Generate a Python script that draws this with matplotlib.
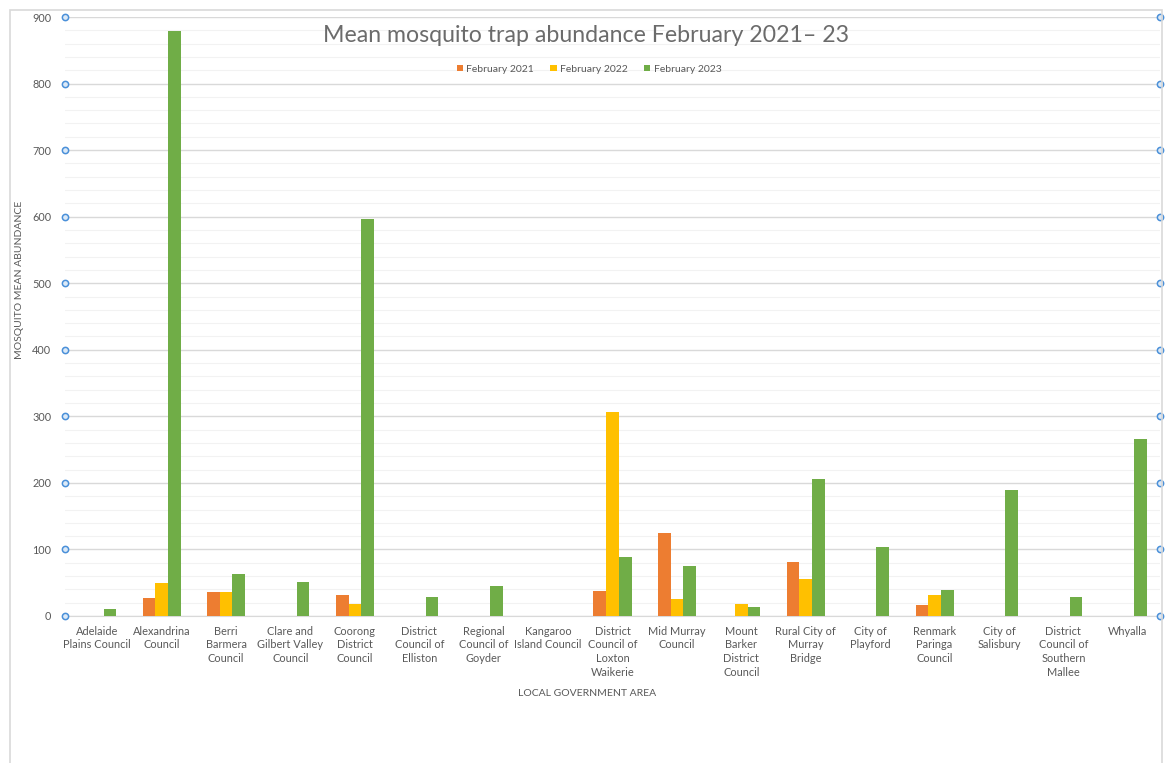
import matplotlib
matplotlib.use("Agg")
import matplotlib.pyplot as plt
import numpy as np
from matplotlib.patches import Rectangle

plt.rcParams['font.family'] = ['Lato', 'DejaVu Sans']

# дані
councils = [
    "Adelaide\nPlains Council", "Alexandrina\nCouncil", "Berri\nBarmera\nCouncil",
    "Clare and\nGilbert Valley\nCouncil", "Coorong\nDistrict\nCouncil",
    "District\nCouncil of\nElliston", "Regional\nCouncil of\nGoyder",
    "Kangaroo\nIsland Council", "District\nCouncil of\nLoxton\nWaikerie",
    "Mid Murray\nCouncil", "Mount\nBarker\nDistrict\nCouncil",
    "Rural City of\nMurray\nBridge", "City of\nPlayford", "Renmark\nParinga\nCouncil",
    "City of\nSalisbury", "District\nCouncil of\nSouthern\nMallee", "Whyalla",
]
feb_2021 = [0, 27, 36, 0, 31, 0, 0, 0, 38, 125, 0, 81, 0, 16, 0, 0, 0]
feb_2022 = [0, 50, 36, 0, 18, 0, 0, 0, 306, 26, 18, 56, 0, 31, 0, 0, 0]
feb_2023 = [10, 879, 63, 51, 596, 29, 45, 0, 89, 75, 13, 206, 104, 39, 189, 29, 266]

series = [("February 2021", feb_2021, "#ED7D31"),
          ("February 2022", feb_2022, "#FFC000"),
          ("February 2023", feb_2023, "#70AD47")]

txt = "#595959"
fig = plt.figure(figsize=(11.7, 7.63), dpi=100)
ax = fig.add_axes([65 / 1170, 1 - 616 / 763, (1160 - 65) / 1170, (616 - 17) / 763])

x = np.arange(len(councils))
w = 0.197
for i, (name, vals, col) in enumerate(series):
    ax.bar(x + (i - 1) * w, vals, w, color=col, label=name, zorder=3)

ax.set_xlim(-0.5, len(councils) - 0.5)
ax.set_ylim(0, 900)
ax.set_yticks(range(0, 901, 100))
ax.set_yticks(range(0, 901, 20), minor=True)
ax.grid(axis='y', which='major', color="#d9d9d9", lw=1, zorder=0)
ax.grid(axis='y', which='minor', color="#f2f2f2", lw=0.8, zorder=0)
ax.tick_params(axis='y', which='both', length=0, labelsize=7.8, labelcolor=txt, pad=10)
ax.set_xticks(x)
ax.set_xticklabels(councils, fontsize=7.9, color=txt, linespacing=1.3, va='top')
ax.tick_params(axis='x', length=0, pad=7)
for s in ['top', 'left', 'right']:
    ax.spines[s].set_visible(False)
ax.spines['bottom'].set_color("#d9d9d9")

# сині кружечки на лівому та правому краю
for xp in (0, 1):
    ax.plot([xp] * 10, range(0, 901, 100), 'o', ms=4.5, mfc="#dbe9f7", mec="#4a90d9",
            mew=1.1, transform=ax.get_yaxis_transform(), clip_on=False, zorder=5)

fig.text(586 / 1170, 1 - 36 / 763, "Mean mosquito trap abundance February 2021\u2013 23",
         ha='center', va='center', fontsize=16.7, color="#6b6b6b")
ax.legend(loc='center', bbox_to_anchor=(589 / 1170, 1 - 69 / 763), bbox_transform=fig.transFigure,
          ncol=3, frameon=False, fontsize=7.5, labelcolor=txt, handlelength=0.6, handleheight=0.6,
          columnspacing=1.6, handletextpad=0.3)
fig.text(587 / 1170, 1 - 693 / 763, "LOCAL GOVERNMENT AREA", ha='center', va='center',
         fontsize=7.5, color=txt)
fig.text(20 / 1170, 1 - 280 / 763, "MOSQUITO MEAN ABUNDANCE", ha='center', va='center',
         rotation=90, fontsize=7.5, color=txt)

# рамка діаграми
fig.patches.append(Rectangle((10 / 1170, -0.05), 1152 / 1170, 1.05 - 10 / 763,
                             transform=fig.transFigure, fill=False, ec="#d9d9d9", lw=1.2))

fig.savefig("out.png", dpi=100, facecolor="white")
